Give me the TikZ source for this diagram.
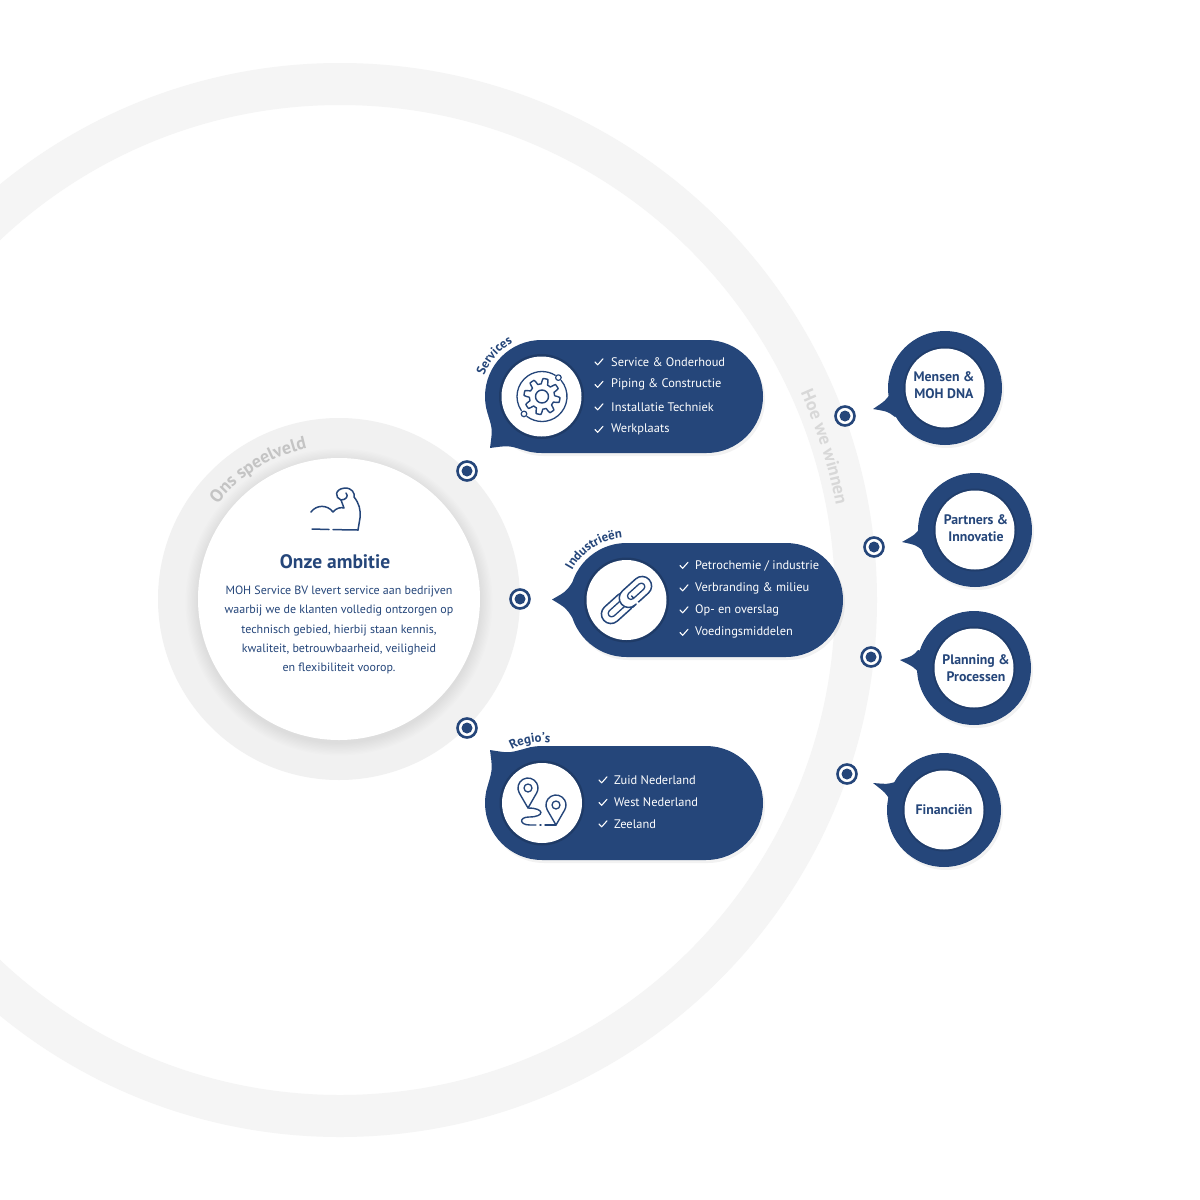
\documentclass[tikz,border=0pt]{standalone}
\usepackage{fontspec}
\setmainfont{PT Sans}
\usetikzlibrary{decorations.text,calc}
\definecolor{navy}{HTML}{25467A}
\definecolor{bigring}{HTML}{F5F5F5}
\definecolor{smallring}{HTML}{F1F1F1}
\definecolor{labelgray}{HTML}{C4C4C4}
\definecolor{winnengray}{HTML}{D8D8D8}
\newcommand\pillpath[4]{(#1,#3-#4) -- (#2,#3-#4) arc[start angle=-90,end angle=90,radius=#4] -- (#1,#3+#4) arc[start angle=90,end angle=270,radius=#4] -- cycle}
\newcommand\bubbletail[4]{\fill[navy] (#2) .. controls ($(#2)!0.5!(#3)!4pt!(#1)$) .. (#3) .. controls ($(#3)!0.5!(#4)!4pt!(#1)$) .. (#4) -- (#1) -- cycle;}
\tikzset{
 iconline/.style={draw=navy, line width=1.6pt, line cap=round, line join=round},
 checkmark/.style={draw=white, line width=1.1pt, line cap=round, line join=round},
 itemtext/.style={text=white, font=\fontsize{12.4}{14}\selectfont, anchor=west, inner sep=0pt},
 circtext/.style={text=navy, font=\bfseries\fontsize{13.8}{17}\selectfont, align=center, inner sep=0pt},
 dotmark/.pic={\draw[navy, line width=2.6pt, fill=white] (0,0) circle[radius=9.5]; \fill[navy] (0,0) circle[radius=5.5];},
 chk/.pic={\draw[checkmark] (-4,0) -- (-1.3,2.8) -- (4,-3.2);},
 shadowfill/.style={fill=black, opacity=0.05},
}
\begin{document}
\begin{tikzpicture}[x=1pt,y=-1pt]
\useasboundingbox (0,0) rectangle (1200,1200);
\clip (0,0) rectangle (1200,1200);
\fill[white] (0,0) rectangle (1200,1200);
% big ring
\draw[bigring, line width=42pt] (340,600) circle[radius=516];
\path[decorate, decoration={text along path, text={|\bfseries\fontsize{18}{20}\selectfont\color{winnengray}|Hoe we winnen}, text align=center}] ([shift={(-36:505)}]340,600) arc[start angle=-36, end angle=1, radius=505];
% small ring
\fill[smallring] (339,599) circle[radius=181];
\foreach \i in {1,...,10} {\fill[black, opacity=0.006] (339,602) circle[radius=140.5+\i*1.3];}
\fill[white] (339,599) circle[radius=141];
\path[decorate, decoration={text along path, text={|\bfseries\fontsize{18}{20}\selectfont\color{labelgray}|Ons speelveld}, text align=center}] ([shift={(204:154)}]339,599) arc[start angle=204, end angle=272, radius=154];
% center content
\draw[iconline, line width=1.5pt] (311,512) .. controls (316,505) and (327,504) .. (333,512)
  .. controls (336,508) and (341,507) .. (344,508) -- (341,500)
  .. controls (335,498) and (334,489) .. (345,488)
  .. controls (352,488) and (355,493) .. (354,497)
  .. controls (359,503) and (361,510) .. (360,518) -- (358,530);
\draw[iconline, line width=1.5pt] (341,500) .. controls (346,500) and (349,496) .. (346,493);
\draw[iconline, line width=1.5pt] (312,529) -- (329,529.5) (333,529.6) -- (358,530);
\node[text=navy, font=\bfseries\fontsize{19.5}{22}\selectfont] (title) at (335,562) {Onze ambitie};
\node[text=navy, font=\fontsize{12}{19.4}\selectfont, align=center] (ambition) at (339,630) {MOH Service BV levert service aan bedrijven\\waarbij we de klanten volledig ontzorgen op\\technisch gebied, hierbij staan kennis,\\kwaliteit, betrouwbaarheid, veiligheid\\en flexibiliteit voorop.};
% dots inner
\pic at (467,471) {dotmark};
\pic at (520,599) {dotmark};
\pic at (467,728) {dotmark};
% dots outer
\pic at (845,416) {dotmark};
\pic at (874,547) {dotmark};
\pic at (871,657) {dotmark};
\pic at (847,774) {dotmark};

% ---------- Services bubble
\fill[shadowfill, xshift=2pt, yshift=-3pt] \pillpath{541.5}{706.5}{396.5}{56.5};
\fill[navy] \pillpath{541.5}{706.5}{396.5}{56.5};
\bubbletail{541.5,396.5}{488.4,415.8}{490,448}{522.2,449.6}
\fill[black, opacity=0.15] (541.5,396.5) circle[radius=42.5];
\fill[white] (541.5,396.5) circle[radius=40];
\draw[iconline, line width=1.4pt] plot[domain=0:360, samples=289, variable=\t] ({542+(15.3+2.7*max(-1,min(1,2.2*sin(8*\t))))*cos(\t)}, {396.5+(15.3+2.7*max(-1,min(1,2.2*sin(8*\t))))*sin(\t)}) -- cycle;
\draw[iconline, line width=1.4pt] (542,396.5) circle[radius=6.5];
\draw[iconline, line width=1.3pt] ([shift={(146:25)}]542,396.5) arc[start angle=146, end angle=302, radius=25];
\draw[iconline, line width=1.3pt] ([shift={(-40:25)}]542,396.5) arc[start angle=-40, end angle=127, radius=25];
\draw[iconline, line width=1.2pt] (558.4,377.6) circle[radius=2.8];
\draw[iconline, line width=1.2pt] (524,413.9) circle[radius=2.8];
\path[decorate, decoration={text along path, text={|\bfseries\fontsize{12.8}{14}\selectfont\color{navy}|Services}, text align=center}] ([shift={(192:61)}]541.5,396.5) arc[start angle=192, end angle=250, radius=61];
\pic at (599,362) {chk}; \node[itemtext] (s1) at (611,362) {Service \& Onderhoud};
\pic at (599,384.5) {chk}; \node[itemtext] (s2) at (611,384.5) {Piping \& Constructie};
\pic at (599,407) {chk}; \node[itemtext] (s3) at (611,407) {Installatie Techniek};
\pic at (599,429.5) {chk}; \node[itemtext] (s4) at (611,429.5) {Werkplaats};

% ---------- Industrieen bubble
\fill[shadowfill, xshift=2pt, yshift=-3pt] \pillpath{626.5}{786}{600}{57};
\fill[navy] \pillpath{626.5}{786}{600}{57};
\bubbletail{626.5,600}{572.3,582.4}{552,599.5}{572.3,617.6}
\fill[black, opacity=0.15] (626.5,600) circle[radius=42.5];
\fill[white] (626.5,600) circle[radius=40];
\begin{scope}[rotate around={42:(626.5,600)}]
 \draw[iconline, line width=1.5pt, rounded corners=9.5pt] (596,590.5) rectangle (633,609.5);
 \draw[iconline, line width=1.3pt, rounded corners=3.5pt] (603,596.5) rectangle (624,603.5);
 \fill[white, rounded corners=9.5pt] (620,590.5) rectangle (657,609.5);
 \draw[iconline, line width=1.5pt, rounded corners=9.5pt] (620,590.5) rectangle (657,609.5);
 \draw[iconline, line width=1.3pt, rounded corners=3.5pt] (629,596.5) rectangle (650,603.5);
 \fill[white] (629.6,608.3) rectangle (633.6,611.2);
 \draw[iconline, line width=1.5pt] (626,609.5) -- (631,609.5);
 \draw[iconline, line width=1.5pt] (633,603) -- (633,600.5);
\end{scope}
\path[decorate, decoration={text along path, text={|\bfseries\fontsize{12.8}{14}\selectfont\color{navy}|Industrieën}, text align=center}] ([shift={(200:62)}]626.5,600) arc[start angle=200, end angle=275, radius=62];
\pic at (684,565.5) {chk}; \node[itemtext] (i1) at (695,565.5) {Petrochemie / industrie};
\pic at (684,588) {chk}; \node[itemtext] (i2) at (695,588) {Verbranding \& milieu};
\pic at (684,610) {chk}; \node[itemtext] (i3) at (695,610) {Op- en overslag};
\pic at (684,632.5) {chk}; \node[itemtext] (i4) at (695,632.5) {Voedingsmiddelen};

% ---------- Regio's bubble
\fill[shadowfill, xshift=2pt, yshift=-3pt] \pillpath{542}{706}{803}{57};
\fill[navy] \pillpath{542}{706}{803}{57};
\bubbletail{542,803}{488.4,783.5}{490,750}{522.5,749.4}
\fill[black, opacity=0.15] (542,803) circle[radius=42.5];
\fill[white] (542,803) circle[radius=40];
\draw[iconline, line width=1.4pt] (528,808) -- (519.3,793) arc[start angle=150, end angle=390, radius=10] -- cycle;
\draw[iconline, line width=1.3pt] (528,788) circle[radius=4];
\draw[iconline, line width=1.4pt] (556,825) -- (547.3,810) arc[start angle=150, end angle=390, radius=10] -- cycle;
\draw[iconline, line width=1.3pt] (556,805) circle[radius=4];
\draw[iconline, line width=1.4pt] (528,808) .. controls (545,808) and (545,817) .. (529,817) .. controls (519,817) and (519,825) .. (530,825) -- (536,825);
\draw[iconline, line width=1.4pt] (540,825) -- (541,825);
\draw[iconline, line width=1.4pt] (545,825) -- (556,825);
\path[decorate, decoration={text along path, text={|\bfseries\fontsize{12.8}{14}\selectfont\color{navy}|Regio’s}, text align=center}] ([shift={(228:61)}]542,803) arc[start angle=228, end angle=290, radius=61];
\pic at (603,780) {chk}; \node[itemtext] (r1) at (614,780) {Zuid Nederland};
\pic at (603,802.5) {chk}; \node[itemtext] (r2) at (614,802.5) {West Nederland};
\pic at (603,824) {chk}; \node[itemtext] (r3) at (614,824) {Zeeland};

% ---------- right circles
\foreach \cx/\cy/\ax/\ay/\tx/\ty/\bx/\by in {945/388/890/394/873/409/895/417, 975/530/920/528/902/542/922/550, 974/668/918/650/900/660/920/674, 944/810/895/782/873/783/890/800}{
 \fill[shadowfill, xshift=2pt, yshift=-3pt] (\cx,\cy) circle[radius=57];
 \fill[navy] (\cx,\cy) circle[radius=57];
 \bubbletail{\cx,\cy}{\ax,\ay}{\tx,\ty}{\bx,\by}
 \fill[black, opacity=0.12] (\cx,\cy) circle[radius=41.5];
 \fill[white] (\cx,\cy) circle[radius=39.5];
}
\node[circtext] (mensen) at (944,385.5) {Mensen \&\\MOH DNA};
\node[circtext] (partners) at (976,528.5) {Partners \&\\Innovatie};
\node[circtext] (planning) at (976,668.5) {Planning \&\\Processen};
\node[circtext] (financien) at (944,810) {Financiën};
\end{tikzpicture}
\end{document}
